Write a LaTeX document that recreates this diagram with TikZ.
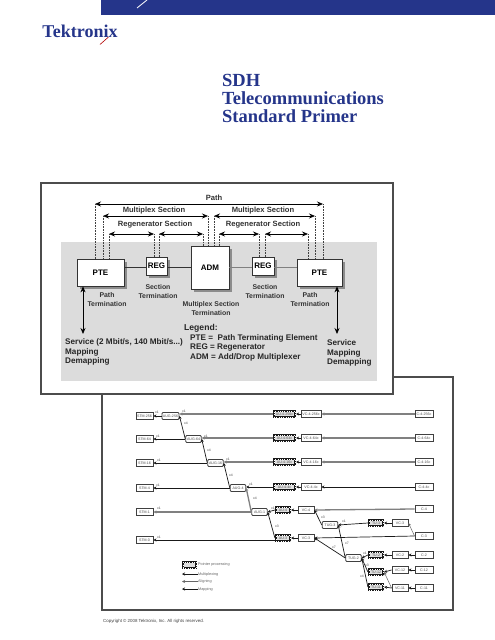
\documentclass[tikz,border=0pt]{standalone}
\usepackage{fontspec}
\setmainfont{Liberation Sans}
\newfontfamily\titlefont{Liberation Serif}
\usetikzlibrary{positioning,arrows.meta,shadows}
\definecolor{tekblue}{HTML}{25358A}
\definecolor{panelgray}{HTML}{DCDCDC}
\tikzset{
  frame/.style={draw=black!70,line width=1.3pt,fill=white},
  mainbox/.style={draw=black!80,line width=.7pt,fill=white,inner sep=0pt,font=\fontsize{8}{9}\selectfont\bfseries,drop shadow={shadow xshift=3pt,shadow yshift=-3pt,fill=black!45,opacity=1}},
  toplabel/.style={font=\fontsize{7.6}{9}\selectfont\bfseries,text=black!80,align=center,inner sep=0pt},
  seclabel/.style={font=\fontsize{6.9}{9}\selectfont\bfseries,text=black!80,align=center,inner sep=0pt},
  legendtext/.style={font=\fontsize{8.15}{9.5}\selectfont\bfseries,text=black!85,align=left,anchor=west,inner sep=0pt},
  span/.style={<->,line width=.7pt},
  dotline/.style={densely dotted,line width=.6pt,black!75},
  smallbox/.style={draw=black!75,line width=.9pt,fill=white,inner sep=0pt,minimum height=7pt,font=\fontsize{3.6}{4}\selectfont,text=black!70},
  stmbox/.style={smallbox,minimum width=17pt},
  augbox/.style={smallbox,rounded corners=1pt,minimum width=15.5pt},
  vcbox/.style={smallbox,minimum width=16pt},
  widebox/.style={smallbox,minimum width=20pt},
  cbox/.style={smallbox,minimum width=18pt},
  ptrbox/.style={smallbox,draw=black!90,line width=2.2pt,fill=black!12,minimum width=14pt,minimum height=5.5pt,postaction={draw=white,line width=.3pt,dotted}},
  ptrwide/.style={ptrbox,minimum width=21pt},
  mult/.style={font=\fontsize{3.4}{4}\selectfont,text=black!70,inner sep=0pt},
  keytext/.style={font=\fontsize{3.8}{4}\selectfont,text=black!60,anchor=west,inner sep=0pt},
  blink/.style={{Stealth[length=3pt,width=3pt]}-,line width=.7pt,black!90},
  glink/.style={{Stealth[length=3pt,width=3pt]}-,line width=1.3pt,black!50},
  tlink/.style={{Stealth[length=3pt,width=3pt]}-,line width=.5pt,black!60}
}
\begin{document}
\begin{tikzpicture}[x=1pt,y=-1pt,>={Stealth[length=6pt,width=5pt]}]
\useasboundingbox (0,0) rectangle (495,640);
\fill[tekblue] (101,0) rectangle (495,15);
\draw[white,line width=.8pt] (137,8) -- (147,0);
\node[font=\titlefont\fontsize{18}{18}\selectfont\bfseries,text=tekblue,inner sep=0pt] (logo) at (80,31) {Tektronix};
\draw[red!70!black,line width=.6pt] (100,44.5) -- (108.5,37);
\node[font=\titlefont\fontsize{18.5}{18}\selectfont\bfseries,text=tekblue,align=left,inner sep=0pt,anchor=west] (title) at (222,98) {SDH\\Telecommunications\\Standard Primer};

\draw[frame] (102,377) rectangle (453,610);
\draw[frame] (41,183) rectangle (393,394);
\fill[panelgray] (61,242) rectangle (377,381);

\node[mainbox,minimum width=47pt,minimum height=27pt] (pteL) at (100.5,272.5) {PTE};
\node[mainbox,minimum width=21pt,minimum height=18pt] (regL) at (156.5,266) {REG};
\node[mainbox,minimum width=38pt,minimum height=43pt] (adm) at (210,267.5) {ADM};
\node[mainbox,minimum width=22pt,minimum height=18pt] (regR) at (263,266) {REG};
\node[mainbox,minimum width=45pt,minimum height=27pt] (pteR) at (319.5,272.5) {PTE};
\draw[line width=.8pt,black!80] (pteL.east |- adm) -- (regL.west |- adm);
\draw[line width=.8pt,black!80] (regL.east |- adm) -- (adm.west);
\draw[line width=1.2pt,black!50] (adm.east) -- (regR.west |- adm);
\draw[line width=1.2pt,black!50] (regR.east |- adm) -- (pteR.west |- adm);

\coordinate (pathA) at (95,204);
\coordinate (pathB) at (323,204);
\coordinate (muxA) at (103,216);
\coordinate (muxB) at (208,216);
\coordinate (muxC) at (214,216);
\coordinate (muxD) at (315,216);
\coordinate (genA) at (109,234);
\coordinate (genB) at (154,234);
\coordinate (genC) at (159,234);
\coordinate (genD) at (203,234);
\coordinate (genE) at (219,234);
\coordinate (genF) at (259,234);
\coordinate (genG) at (265,234);
\coordinate (genH) at (308,234);
\foreach \a/\b in {pathA/pathB,muxA/muxB,muxC/muxD,genA/genB,genC/genD,genE/genF,genG/genH}
  \draw[span] (\a) -- (\b);
\foreach \a/\b in {pathA/pteL,muxA/pteL,genA/pteL,genB/regL,genC/regL,muxB/adm,genD/adm,muxC/adm,genE/adm,genF/regR,genG/regR,genH/pteR,muxD/pteR,pathB/pteR}
  \draw[dotline] (\a) -- (\a |- \b.north);

\node[toplabel] (pathtext) at (214,198) {Path};
\node[toplabel] (muxtextL) at (154,211) {Multiplex Section};
\node[toplabel] (muxtextR) at (263,211) {Multiplex Section};
\node[toplabel] (gentextL) at (155,225) {Regenerator Section};
\node[toplabel] (gentextR) at (263,225) {Regenerator Section};
\node[seclabel] (termA) at (107,299.5) {Path\\Termination};
\node[seclabel] (termB) at (158,291.5) {Section\\Termination};
\node[seclabel] (termC) at (211,308.5) {Multiplex Section\\Termination};
\node[seclabel] (termD) at (265,291.5) {Section\\Termination};
\node[seclabel] (termE) at (310,299.5) {Path\\Termination};

\node[legendtext,font=\fontsize{8.6}{9.5}\selectfont\bfseries] (legendhead) at (184,328) {Legend:};
\node[legendtext] (legendbody) at (190,347.5) {PTE =\ \ Path Terminating Element\\REG = Regenerator\\ADM = Add/Drop Multiplexer};
\node[legendtext] (servL) at (65,352) {Service (2 Mbit/s, 140 Mbit/s...)\\Mapping\\Demapping};
\node[legendtext] (servR) at (327,353) {Service\\Mapping\\Demapping};
\coordinate (servendL) at (83,334);
\coordinate (servendR) at (337,334);
\draw[<->,line width=.8pt] (pteL.south -| servendL) -- (servendL);
\draw[<->,line width=.8pt] (pteR.south -| servendR) -- (servendR);

\foreach \n/\y in {256/416,64/439,16/463,4/488,1/512,0/540}
  \node[stmbox] (stm\n) at (144.5,\y) {STM-\n};
\node[augbox,minimum width=17pt] (aug256) at (170.5,416) {AUG-256};
\node[augbox] (aug64) at (193.5,439) {AUG-64};
\node[augbox] (aug16) at (215.5,463) {AUG-16};
\node[augbox] (aug4) at (238,488) {AUG-4};
\node[augbox] (aug1) at (259.5,512) {AUG-1};
\foreach \n/\y in {256/414,64/438,16/462,4/487}{
  \node[ptrwide] (au\n c) at (284.5,\y) {AU-4-\n c};
  \node[widebox] (vc\n c) at (311,\y) {VC-4-\n c};
  \node[cbox] (c\n c) at (424,\y) {C-4-\n c};
}
\node[ptrbox] (au4) at (283,510) {AU-4};
\node[ptrbox] (au3) at (283,538) {AU-3};
\node[vcbox] (vc4) at (306,510) {VC-4};
\node[vcbox] (vc3) at (306,538) {VC-3};
\node[augbox] (tug3) at (330,525) {TUG-3};
\node[augbox] (tug2) at (353.5,558) {TUG-2};
\node[ptrbox] (tu3) at (376,523) {TU-3};
\node[ptrbox] (tu2) at (376,555) {TU-2};
\node[ptrbox] (tu12) at (376,572) {TU-12};
\node[ptrbox] (tu11) at (376,587) {TU-11};
\node[vcbox] (vcb3) at (400,523) {VC-3};
\node[vcbox] (vc2) at (400,555) {VC-2};
\node[vcbox] (vc12) at (400,570) {VC-12};
\node[vcbox] (vc11) at (400,588) {VC-11};
\foreach \n/\t/\y in {cc4/C-4/509,cc3/C-3/536,cc2/C-2/555,cc12/C-12/570,cc11/C-11/588}
  \node[cbox] (\n) at (424,\y) {\t};

\draw[blink] (stm256.east) -- (aug256.west);
\draw[blink] (stm64.east) -- (aug64.west);
\draw[blink] (stm16.east) -- (aug16.west);
\draw[blink] (stm4.east) -- (aug4.west);
\draw[glink] (stm1.east) -- (aug1.west);
\draw[blink] (stm0.east) -- (au3.west |- stm0);
\draw[glink] (aug256.east |- au256c) -- (au256c.west);
\draw[glink] (aug64.east |- au64c) -- (au64c.west);
\draw[glink] (aug16.east |- au16c) -- (au16c.west);
\draw[blink] (aug4.east |- au4c) -- (au4c.west);
\draw[blink] (aug1.east) -- (au4.west);
\foreach \n in {256,64,16}{
  \draw[blink] (au\n c.east) -- (vc\n c.west);
  \draw[glink] (vc\n c.east) -- (c\n c.west);
}
\draw[blink] (au4c.east) -- (vc4c.west);
\draw[blink] (vc4c.east) -- (c4c.west);
\draw[blink] (aug256.east) -- (aug64.west);
\draw[blink] (aug64.east) -- (aug16.west);
\draw[blink] (aug16.east) -- (aug4.west);
\draw[glink] (aug4.east) -- (aug1.west);
\draw[blink] (aug1.east) -- (au3.west);
\draw[blink] (au4.east) -- (vc4.west);
\draw[blink] (au3.east) -- (vc3.west);
\draw[glink] (vc4.east) -- (cc4.west);
\draw[blink] (vc3.east) -- (cc3.west);
\draw[blink] (vc4.east) -- (tug3.west);
\draw[blink] (vc3.east) -- (tug2.west);
\draw[blink] (tug3.east) -- (tug2.west);
\draw[blink] (tug3.east) -- (tu3.west);
\draw[blink] (tu3.east) -- (vcb3.west);
\draw[tlink] (vcb3.east) -- (cc3.west);
\draw[blink] (tug2.east) -- (tu2.west);
\draw[blink] (tug2.east) -- (tu12.west);
\draw[blink] (tug2.east) -- (tu11.west);
\draw[blink] (tu2.east) -- (vc2.west);
\draw[blink] (tu12.east) -- (vc12.west);
\draw[tlink] (tu12.east) -- (vc11.west);
\draw[blink] (tu11.east) -- (vc11.west);
\draw[blink] (vc2.east) -- (cc2.west);
\draw[blink] (vc12.east) -- (cc12.west);
\draw[blink] (vc11.east) -- (cc11.west);

\foreach \x/\y/\t [count=\i] in {157/412/x1,184/411/x1,186/423/x4,158/436/x1,206/436/x1,209/450/x4,159/460/x1,228/459/x1,231/475/x4,158/485/x1,251/484/x1,255/498/x4,159/508/x1,159/537/x1,273/508/x1,277/526/x3,323/517/x3,344/521/x1,347/543/x7,334/547/x7,365/553/x1,367/565/x3,362/576/x4}
  \node[mult] (count\i) at (\x,\y) {\t};

\node[ptrbox,minimum width=13pt,minimum height=6pt] (keybox) at (189.5,565) {};
\node[keytext] (keyptr) at (198,565) {Pointer processing};
\node[keytext] (keymux) at (198,574.5) {Multiplexing};
\node[keytext] (keyalign) at (198,582) {Aligning};
\node[keytext] (keymap) at (198,590) {Mapping};
\coordinate (keyA) at (182,574);
\coordinate (keyB) at (182,581.5);
\coordinate (keyC) at (182,589);
\draw[blink] (keyA) -- (keyA -| keymux.west);
\draw[tlink] (keyB) -- (keyB -| keyalign.west);
\draw[blink] (keyC) -- (keyC -| keymap.west);

\node[font=\fontsize{4.4}{6}\selectfont,text=black!75,anchor=west,inner sep=0pt] (copyright) at (103,621.5) {Copyright © 2008 Tektronix, Inc. All rights reserved.};
\end{tikzpicture}
\end{document}
